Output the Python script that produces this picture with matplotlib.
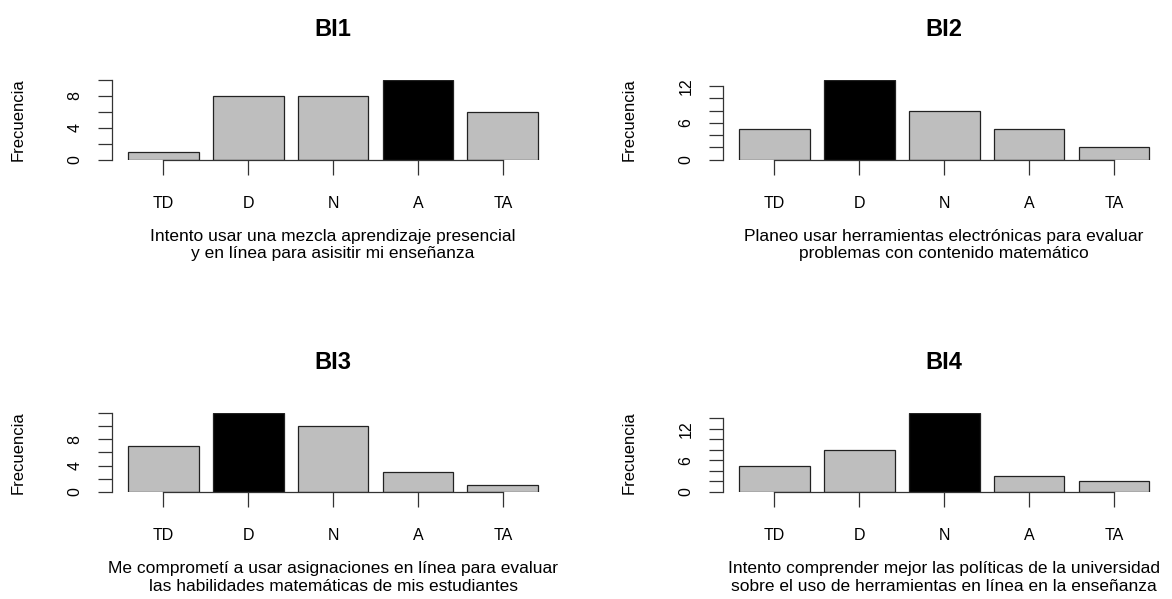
import matplotlib
matplotlib.use("Agg")
import matplotlib.pyplot as plt
import numpy

plt.rcParams["font.family"] = ["Liberation Sans", "DejaVu Sans"]

CATEGORIES = ["TD", "D", "N", "A", "TA"]

TITLES = ["BI1", "BI2", "BI3", "BI4"]
COUNTS = [
    [1, 8, 8, 10, 6],
    [5, 13, 8, 5, 2],
    [7, 12, 10, 3, 1],
    [5, 8, 15, 3, 2],
]
Y_TICKS = [
    [0, 2, 4, 6, 8, 10],
    [0, 2, 4, 6, 8, 10, 12],
    [0, 2, 4, 6, 8, 10, 12],
    [0, 2, 4, 6, 8, 10, 12, 14],
]
Y_TICK_LABELS = [
    ["0", "", "4", "", "8", ""],
    ["0", "", "", "6", "", "", "12"],
    ["0", "", "4", "", "8", "", ""],
    ["0", "", "", "6", "", "", "12", ""],
]
STATEMENTS = [
    "Intento usar una mezcla aprendizaje presencial\ny en línea para asisitir mi enseñanza",
    "Planeo usar herramientas electrónicas para evaluar\nproblemas con contenido matemático",
    "Me comprometí a usar asignaciones en línea para evaluar\nlas habilidades matemáticas de mis estudiantes",
    "Intento comprender mejor las políticas de la universidad\nsobre el uso de herramientas en línea en la enseñanza",
]

GREY = "#bebebe"
AXES_RECTS = [
    [0.0952, 0.7337, 0.378, 0.1327],
    [0.6166, 0.7337, 0.378, 0.1327],
    [0.0952, 0.1786, 0.378, 0.1320],
    [0.6166, 0.1786, 0.378, 0.1320],
]


def draw_panel(axis, title, counts, ticks, tick_labels, statement):
    # barplot layout: width 1, space 0.2, 4% padding on x
    lefts = 0.2 + 1.2 * numpy.arange(len(counts))
    centers = lefts + 0.5
    colors = [GREY] * len(counts)
    colors[int(numpy.argmax(counts))] = "black"
    axis.bar(centers, counts, width=1.0, color=colors, edgecolor="#222222", linewidth=0.9)
    span = lefts[-1] + 1.0 - lefts[0]
    axis.set_xlim(lefts[0] - 0.04 * span, lefts[-1] + 1.0 + 0.04 * span)
    axis.set_ylim(0, max(counts))

    for side in ["top", "right"]:
        axis.spines[side].set_visible(False)
    axis.spines["left"].set_bounds(ticks[0], ticks[-1])
    axis.spines["bottom"].set_bounds(centers[0], centers[-1])
    for side in ["left", "bottom"]:
        axis.spines[side].set_linewidth(0.9)
        axis.spines[side].set_color("#333333")

    axis.set_xticks(centers)
    axis.set_xticklabels(CATEGORIES)
    axis.set_yticks(ticks)
    axis.set_yticklabels(tick_labels)
    axis.tick_params(axis="x", length=11, width=0.9, color="#333333", pad=15, labelsize=11.5)
    axis.tick_params(axis="y", length=10, width=0.9, color="#333333", pad=11, labelsize=11.5,
                     labelrotation=90)
    for label in axis.get_yticklabels():
        label.set_verticalalignment("center")

    axis.set_ylabel("Frecuencia", fontsize=12)
    axis.yaxis.set_label_coords(-0.195, 0.5)
    axis.set_title(title, fontsize=17, fontweight="bold", pad=32)
    axis.annotate(statement, xy=(0.5, 0), xycoords="axes fraction",
                  xytext=(0, -50), textcoords="offset points",
                  ha="center", va="top", fontsize=12.5, linespacing=1.2)


figure = plt.figure(figsize=(11.72, 5.99), dpi=100)
for index in range(4):
    axis = figure.add_axes(AXES_RECTS[index])
    draw_panel(axis, TITLES[index], COUNTS[index], Y_TICKS[index],
               Y_TICK_LABELS[index], STATEMENTS[index])

figure.savefig("out.png", dpi=100, facecolor="white")
